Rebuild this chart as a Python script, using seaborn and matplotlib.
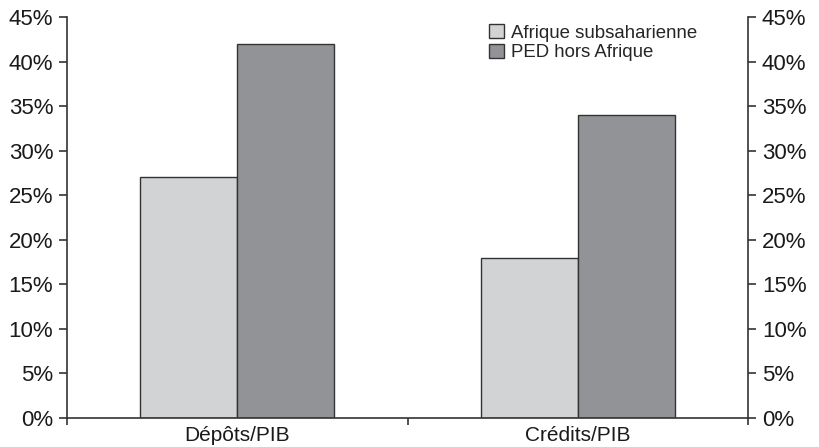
import pandas as pd
import matplotlib.pyplot as plt
import seaborn as sns
from matplotlib.ticker import PercentFormatter, FixedLocator

categories = ["Dépôts/PIB", "Crédits/PIB"]
series = ["Afrique subsaharienne", "PED hors Afrique"]
afrique = [27, 18]
ped = [42, 34]
y_ticks = [0, 5, 10, 15, 20, 25, 30, 35, 40, 45]


def build_frame():
    rows = []
    for cat, a, p in zip(categories, afrique, ped):
        rows.append({"cat": cat, "serie": series[0], "val": a})
        rows.append({"cat": cat, "serie": series[1], "val": p})
    return pd.DataFrame(rows)


def main():
    sns.set_style("white")
    plt.rcParams['font.family'] = ['Liberation Sans', 'DejaVu Sans']
    edge = "#333333"

    df = build_frame()
    fig = plt.figure(figsize=(8.19, 4.47), dpi=100)
    ax = fig.add_axes([67 / 819, 29 / 447, 681 / 819, 401 / 447])

    sns.barplot(data=df, x="cat", y="val", hue="serie", ax=ax,
                palette={series[0]: "#d2d3d5", series[1]: "#929397"},
                width=0.57, edgecolor=edge, linewidth=1.0, saturation=1)

    ax.set_xlim(-0.5, 1.5)
    ax.set_ylim(0, 45)
    ax.set_yticks(y_ticks)
    ax.yaxis.set_major_formatter(PercentFormatter(decimals=0))
    ax.set_xlabel("")
    ax.set_ylabel("")

    ax.xaxis.set_minor_locator(FixedLocator([-0.5, 0.5, 1.5]))
    ax.tick_params(axis="x", which="major", length=0, labelsize=15, pad=6, colors="#1a1a1a")
    ax.tick_params(axis="x", which="minor", length=5, width=1.2, direction="out", color=edge, bottom=True)
    ax.tick_params(axis="y", length=6, width=1.2, direction="out", color=edge, labelsize=16, pad=4, left=True,
                   labelcolor="#1a1a1a")

    for side in ["left", "right", "bottom"]:
        ax.spines[side].set_visible(True)
        ax.spines[side].set_color(edge)
        ax.spines[side].set_linewidth(1.2)
    ax.spines["top"].set_visible(False)

    ax2 = ax.twinx()
    ax2.set_ylim(0, 45)
    ax2.set_yticks(y_ticks)
    ax2.yaxis.set_major_formatter(PercentFormatter(decimals=0))
    ax2.tick_params(axis="y", length=6, width=1.2, direction="out", color=edge, labelsize=16, pad=4,
                    labelcolor="#1a1a1a")
    for side in ["left", "right", "bottom", "top"]:
        ax2.spines[side].set_visible(False)

    handles, labels = ax.get_legend_handles_labels()
    ax.legend_.remove()
    fig.legend(handles, labels, loc="upper left", bbox_to_anchor=(489 / 819, 1 - 24 / 447),
               frameon=False, fontsize=13.4, handlelength=0.8, handleheight=0.8,
               handletextpad=0.4, labelspacing=0.12, borderaxespad=0, borderpad=0)

    plt.savefig("out.png", dpi=100)


if __name__ == '__main__':
    main()
